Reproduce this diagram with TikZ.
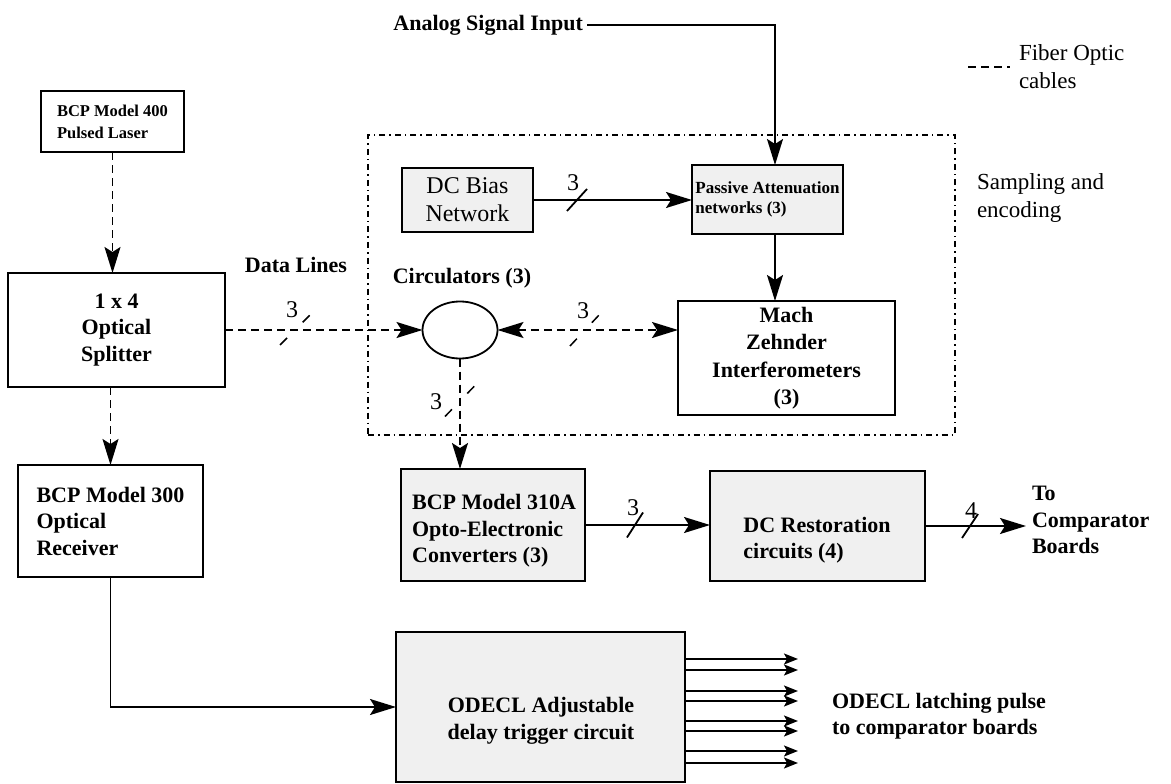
\documentclass[tikz,border=0pt]{standalone}
\usepackage{fontspec}
\setmainfont{Liberation Serif}
\usetikzlibrary{arrows.meta,shapes.geometric,calc}
\begin{document}
\begin{tikzpicture}[x=1pt,y=-1pt,
  >={Stealth[length=26pt,width=16pt,inset=5pt]},
  every node/.style={inner sep=0pt, outer sep=0pt},
  bf/.style={font=\fontsize{22}{26.5}\selectfont\bfseries},
  rm/.style={font=\fontsize{23}{28}\selectfont},
  num/.style={font=\fontsize{24}{24}\selectfont},
  blk/.style={draw, line width=1.8pt},
  stip/.style={fill=black!6},
  fib/.style={line width=1.6pt, dash pattern=on 8pt off 5pt},
  wire/.style={line width=1.8pt},
  slashd/.style={line width=1.5pt, dash pattern=on 10pt off 22pt on 10pt},
  ddot/.style={line width=1.1pt, dash pattern=on 6pt off 4pt on 1.5pt off 4pt},
  smalltip/.style={-{Stealth[length=14pt,width=11pt,inset=3pt]}}
]
\useasboundingbox (0,0) rectangle (1171,784);

% sampling and encoding frame
\node[draw, ddot, minimum width=587pt, minimum height=300pt] (samp) at (661.5,285) {};

% blocks
\node[blk, minimum width=143pt, minimum height=61pt, font=\fontsize{16.5}{22}\selectfont\bfseries, align=left] (laser) at (112.5,121.5) {BCP Model 400\\Pulsed Laser};
\node[blk, minimum width=217pt, minimum height=114pt, bf, align=center] (split) at (116.5,330) {1 x 4\\Optical\\Splitter};
\node[blk, minimum width=185pt, minimum height=112pt, bf, align=left] (rx) at (110.5,521) {BCP Model 300\\Optical\\Receiver};
\node[blk, stip, minimum width=131pt, minimum height=64pt, font=\fontsize{24}{28}\selectfont, align=center] (bias) at (467.5,200) {DC Bias\\Network};
\node[blk, stip, minimum width=151pt, minimum height=69pt, font=\fontsize{17}{20.5}\selectfont\bfseries, align=left] (pas) at (767.5,199.5) {Passive Attenuation\\networks (3)};
\node[draw, ellipse, line width=1.8pt, minimum width=75pt, minimum height=57pt] (circ) at (460,330) {};
\node[blk, minimum width=217pt, minimum height=114pt, font=\fontsize{22}{27.5}\selectfont\bfseries, align=center] (mz) at (786.5,358) {Mach\\Zehnder\\Interferometers\\(3)};
\node[blk, stip, minimum width=184pt, minimum height=112pt] (oe) at (493,525) {};
\node[bf, align=left] (oetxt) at (494,531) {BCP Model 310A\\Opto-Electronic\\Converters (3)};
\node[blk, stip, minimum width=215pt, minimum height=110pt] (dcr) at (817.5,526) {};
\node[bf, align=left] (dcrtxt) at (817,540) {DC Restoration\\circuits (4)};
\node[blk, stip, minimum width=289pt, minimum height=150pt] (odecl) at (540.5,707) {};
\node[bf, align=center] (odtxt) at (541,721) {ODECL Adjustable\\delay trigger circuit};

% free texts
\node[bf, anchor=east] (asi) at (583,25) {Analog Signal Input};
\node[bf] (dl) at (296,265) {Data Lines};
\node[bf] (circl) at (462,278) {Circulators (3)};
\node[rm, align=left, anchor=west] (fibtxt) at (1019,67) {Fiber Optic\\cables};
\node[rm, align=left, anchor=west] (sae) at (977,198) {Sampling and\\encoding};
\node[bf, align=left, anchor=west] (tocomp) at (1032,520) {To\\Comparator\\Boards};
\node[bf, align=left, anchor=west] (latch) at (832,716) {ODECL latching pulse\\to comparator boards};

% legend
\coordinate (lgs) at (968,67);
\draw[fib] (lgs) -- ([xshift=-9pt]fibtxt.west);

% connectors
\draw[wire,->] ([xshift=4pt]asi.east) -| ([xshift=7.5pt]pas.north);
\draw[wire,->] ([xshift=7.5pt]pas.south) -- ([xshift=7.5pt]pas.south |- mz.north);
\draw[wire,->] (bias.east) -- (bias.east -| pas.west);
\draw[fib,->] (laser.south) -- (laser.south |- split.north);
\draw[fib,->] (split.east) -- (circ.west);
\draw[fib,<->] (circ.east) -- (circ.east -| mz.west);
\draw[fib,->] (circ.south) -- (circ.south |- oe.north);
\draw[fib,->] (rx.north |- split.south) -- (rx.north);
\draw[wire,->] (rx.south) |- (odecl.west);
\draw[wire,->] (oe.east) -- (oe.east -| dcr.west);
\draw[wire,->] (dcr.east) -- ([xshift=-6pt]dcr.east -| tocomp.west);

\foreach \yy [count=\i] in {659,670,691,701,721,731,751,763} {
  \coordinate (out\i) at (798,\yy);
  \draw[wire, smalltip] (odecl.east |- out\i) -- (out\i);
}

% bus slashes and counts
\coordinate (s1) at (577,200);
\draw[wire] ($(s1)+(-10,11)$) -- ($(s1)+(10,-11)$);
\node[num] (n1) at (573,183) {3};

\coordinate (s2) at (295,330);
\draw[slashd] ($(s2)+(-15,15)$) -- ($(s2)+(15,-15)$);
\node[num] (n2) at (292,310) {3};

\coordinate (s3) at (585,330);
\draw[slashd] ($(s3)+(-15,16)$) -- ($(s3)+(15,-16)$);
\node[num] (n3) at (583,311) {3};

\coordinate (s4) at (460,401);
\draw[slashd] ($(s4)+(-15,15.5)$) -- ($(s4)+(15,-15.5)$);
\node[num] (n4) at (436,402) {3};

\coordinate (s5) at (635,525);
\draw[wire] ($(s5)+(-8,12.5)$) -- ($(s5)+(8,-12.5)$);
\node[num] (n5) at (633,508) {3};

\coordinate (s6) at (970,526);
\draw[wire] ($(s6)+(-8,12)$) -- ($(s6)+(8,-12)$);
\node[num] (n6) at (971,511) {4};
\end{tikzpicture}
\end{document}
